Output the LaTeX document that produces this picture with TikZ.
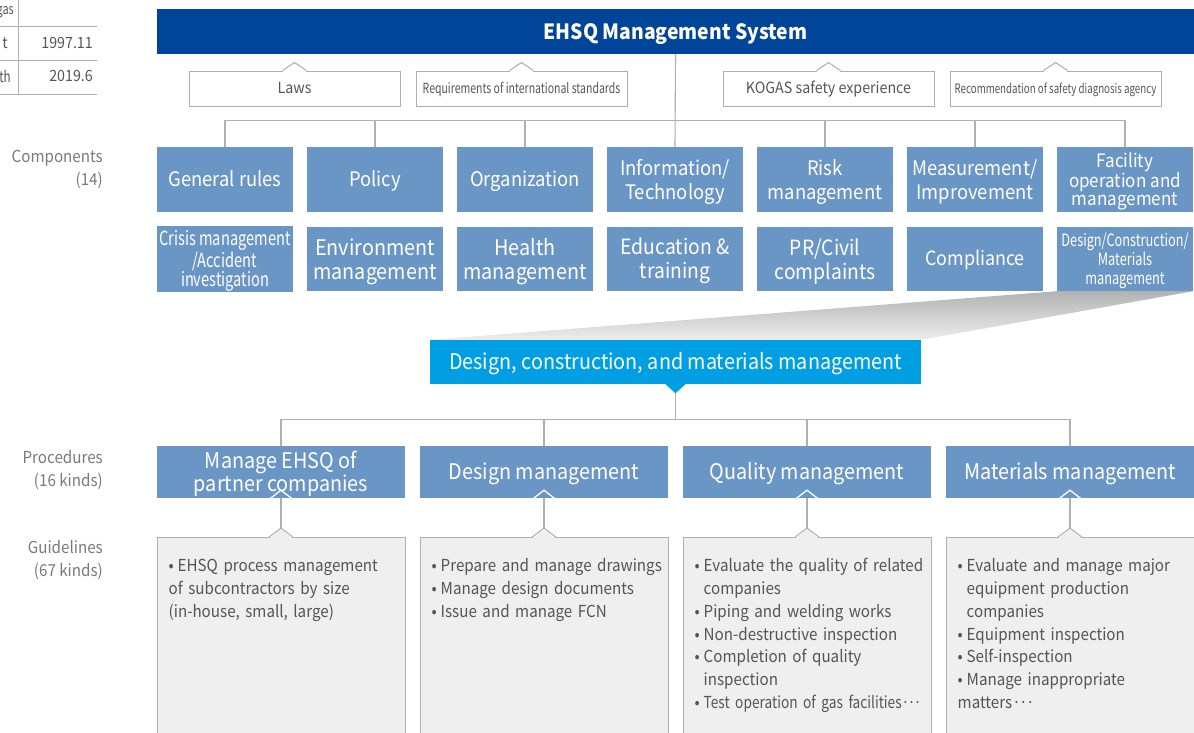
\documentclass[tikz,border=0pt]{standalone}
\usepackage{fontspec}
\setmainfont[FakeStretch=0.92]{Noto Sans CJK KR}
\newfontfamily\narrowfont[FakeStretch=0.75]{Noto Sans CJK KR}
\newfontfamily\semifont[FakeStretch=0.83]{Noto Sans CJK KR}
\usetikzlibrary{calc}
\definecolor{TitleBlue}{HTML}{00459A}
\definecolor{CompBlue}{HTML}{6A96C6}
\definecolor{SkyBlue}{HTML}{009FE3}
\definecolor{LineGray}{HTML}{B0B0B0}
\definecolor{BoxGray}{HTML}{EFEFEF}
\definecolor{TextGray}{HTML}{555555}
\definecolor{LabelGray}{HTML}{7A7A7A}
\newcommand{\fs}[2]{\fontsize{#1}{#2}\selectfont}
\newcommand{\bul}[1]{\par\hangindent=9pt\hangafter=1\makebox[9pt][l]{\textbullet}#1}
\newcommand{\lift}{\rule{0pt}{1em}}
\newcommand{\middots}{·\kern-1.6pt·\kern-1.6pt·}
\hyphenpenalty=10000
\exhyphenpenalty=10000

\begin{document}
\begin{tikzpicture}[
    x=1pt,y=-1pt,
    conn/.style={draw=LineGray,line width=1.1pt},
    one/.style={text height=#1,text depth=0pt},
    titlebar/.style={fill=TitleBlue,text=white,minimum width=1037,minimum height=45,inner sep=0,font=\fs{21}{24}\bfseries,one=16pt},
    callout/.style={draw=LineGray,fill=white,line width=1pt,minimum width=211,minimum height=35,inner sep=0,text=TextGray,font=\fs{15.5}{18},one=10.2pt},
    comp/.style={fill=CompBlue,text=white,minimum width=136,inner sep=0,align=center,font=\fs{20}{24}},
    proc/.style={fill=CompBlue,text=white,minimum width=248,minimum height=52,inner sep=0,align=center,font=\fs{21.5}{24}},
    guide/.style={draw=LineGray,fill=BoxGray,line width=1pt,minimum width=248,minimum height=210,inner sep=0,anchor=north},
    gtext/.style={anchor=north west,inner sep=0,text width=236,align=left,text=TextGray,font=\fs{16.5}{22.7}},
    side/.style={anchor=north east,inner sep=0,align=right,text=LabelGray,font=\fs{16.5}{23}},
    cell/.style={anchor=east,inner sep=0,text=TextGray,font=\fs{15.5}{18}}
  ]
  \useasboundingbox (0,0) rectangle (1194,732);
  \clip (0,0) rectangle (1194,732);

  % cut-off table, top left
  \draw[LineGray,line width=0.8pt] (0,26) -- (97,26) (0,60) -- (97,60) (0,94) -- (97,94) (18,0) -- (18,94);
  \node[cell,font=\narrowfont\fs{14.5}{15}] (tg) at (14,12) {gas};
  \node[cell] (tt) at (8,43) {t};
  \node[cell,font=\narrowfont\fs{15.5}{18}] (tl) at (11,76) {lth};
  \node[cell] (ty1) at (93,43) {1997.11};
  \node[cell] (ty2) at (93,76) {2019.6};

  % side labels
  \node[side] (lcomp) at (103,150) {Components\\(14)};
  \node[side] (lproc) at (103,450) {Procedures\\(16 kinds)};
  \node[side] (lguide) at (103,540) {Guidelines\\(67 kinds)};

  % title and inputs
  \node[titlebar] (sys) at (675.5,31.5) {EHSQ Management System};
  \node[callout] (law) at (294.5,88.5) {Laws};
  \node[callout,font=\narrowfont\fs{14}{16}] (req) at (521.5,88.5) {Requirements of international standards};
  \node[callout] (kog) at (828.5,88.5) {KOGAS safety experience};
  \node[callout,font=\narrowfont\fs{13}{16},one=9pt] (rec) at (1055.5,88.5) {Recommendation of safety diagnosis agency};
  \foreach \n in {law,req,kog,rec} {
    \fill[white] ($(\n.north)+(-12,1.5)$) -- ($(\n.north)+(0,-8)$) -- ($(\n.north)+(12,1.5)$) -- cycle;
    \draw[conn,line width=1pt] ($(\n.north)+(-12,0)$) -- ($(\n.north)+(0,-8)$) -- ($(\n.north)+(12,0)$);
  }

  % components
  \node[comp,minimum height=65,one=13.2pt] (c1) at (225,179.5) {General rules};
  \node[comp,minimum height=65,one=13.2pt] (c2) at (375,179.5) {Policy};
  \node[comp,minimum height=65,one=13.2pt] (c3) at (525,179.5) {Organization};
  \node[comp,minimum height=65] (c4) at (675,179.5) {\lift Information/\\Technology};
  \node[comp,minimum height=65] (c5) at (825,179.5) {\lift Risk\\management};
  \node[comp,minimum height=65] (c6) at (975,179.5) {\lift Measurement/\\Improvement};
  \node[comp,minimum height=65,font=\fs{18.5}{18.5}] (c7) at (1125,179.5) {\lift Facility\\operation and\\management};
  \node[comp,minimum height=64,font=\narrowfont\fs{19.5}{18}] (c8) at (225,259) {\lift Crisis management\\/Accident\\investigation};
  \node[comp,minimum height=64,font=\fs{21.5}{24}] (c9) at (375,259) {\lift Environment\\management};
  \node[comp,minimum height=64,font=\fs{21.5}{24}] (c10) at (525,259) {\lift Health\\management};
  \node[comp,minimum height=64,font=\fs{21}{24}] (c11) at (675,259) {\lift Education \&\\training};
  \node[comp,minimum height=64,font=\fs{21}{24}] (c12) at (825,259) {\lift PR/Civil\\complaints};
  \node[comp,minimum height=64,font=\fs{19.5}{24},one=12.9pt] (c13) at (975,259) {Compliance};
  \node[comp,minimum height=64,font=\narrowfont\fs{17}{19}] (c14) at (1125,259) {\lift Design/Construction/\\Materials\\management};

  \draw[conn] (sys.south) -- (c4.north);
  \draw[conn] (c1.north) -- ++(0,-26) -| (c7.north);
  \foreach \n in {c2,c3,c5,c6} \draw[conn] (\n.north) -- ++(0,-26);

  % zoom to the selected component
  \node[fill=SkyBlue,text=white,minimum width=491,minimum height=44,inner sep=0,font=\fs{21.5}{24},one=14.2pt] (dcm) at (675.5,362) {Design, construction, and materials management};
  \shade[top color=black!30,bottom color=black!7] (c14.south west) -- (c14.south east) -- (dcm.north east) -- (dcm.north west) -- cycle;
  \fill[SkyBlue] ($(dcm.south)+(-10,0)$) -- ($(dcm.south)+(0,9)$) -- ($(dcm.south)+(10,0)$) -- cycle;

  % procedures
  \node[proc,font=\fs{21.5}{22}] (p1) at (281,472) {\lift Manage EHSQ of\\partner companies};
  \node[proc,one=14.2pt] (p2) at (544,472) {Design management};
  \node[proc,one=14.2pt] (p3) at (807,472) {Quality management};
  \node[proc,one=14.2pt] (p4) at (1070,472) {Materials management};
  \draw[conn] ($(dcm.south)+(0,9)$) -- ++(0,27);
  \draw[conn] (p1.north) -- ++(0,-26) -| (p4.north);
  \foreach \n in {p2,p3} \draw[conn] (\n.north) -- ++(0,-26);

  % guidelines
  \node[guide] (g1) at (281,537) {};
  \node[guide] (g2) at (544,537) {};
  \node[guide] (g3) at (807,537) {};
  \node[guide] (g4) at (1070,537) {};
  \foreach \p/\g in {p1/g1,p2/g2,p3/g3,p4/g4} {
    \draw[conn] (\p.south) -- ($(\g.north)+(0,-9)$);
    \draw[white,line width=1.3pt] ($(\p.south)+(-11,0.5)$) -- ($(\p.south)+(0,-8)$) -- ($(\p.south)+(11,0.5)$);
    \fill[BoxGray] ($(\g.north)+(-12,1.5)$) -- ($(\g.north)+(0,-9)$) -- ($(\g.north)+(12,1.5)$) -- cycle;
    \draw[conn,line width=1pt] ($(\g.north)+(-12,0)$) -- ($(\g.north)+(0,-9)$) -- ($(\g.north)+(12,0)$);
  }
  \node[gtext] (t1) at ($(g1.north west)+(12,12)$) {%
    \bul{EHSQ process management\newline of subcontractors by size\newline (in-house, small, large)}};
  \node[gtext] (t2) at ($(g2.north west)+(12,12)$) {%
    \bul{Prepare and manage drawings}
    \bul{Manage design documents}
    \bul{Issue and manage FCN}};
  \node[gtext] (t3) at ($(g3.north west)+(12,12)$) {%
    \bul{Evaluate the quality of related\newline companies}
    \bul{Piping and welding works}
    \bul{Non-destructive inspection}
    \bul{Completion of quality\newline inspection}
    \bul{{\semifont Test operation of gas facilities\middots}}};
  \node[gtext] (t4) at ($(g4.north west)+(12,12)$) {%
    \bul{Evaluate and manage major\newline equipment production\newline companies}
    \bul{Equipment inspection}
    \bul{Self-inspection}
    \bul{Manage inappropriate\newline matters\middots}};
\end{tikzpicture}
\end{document}
